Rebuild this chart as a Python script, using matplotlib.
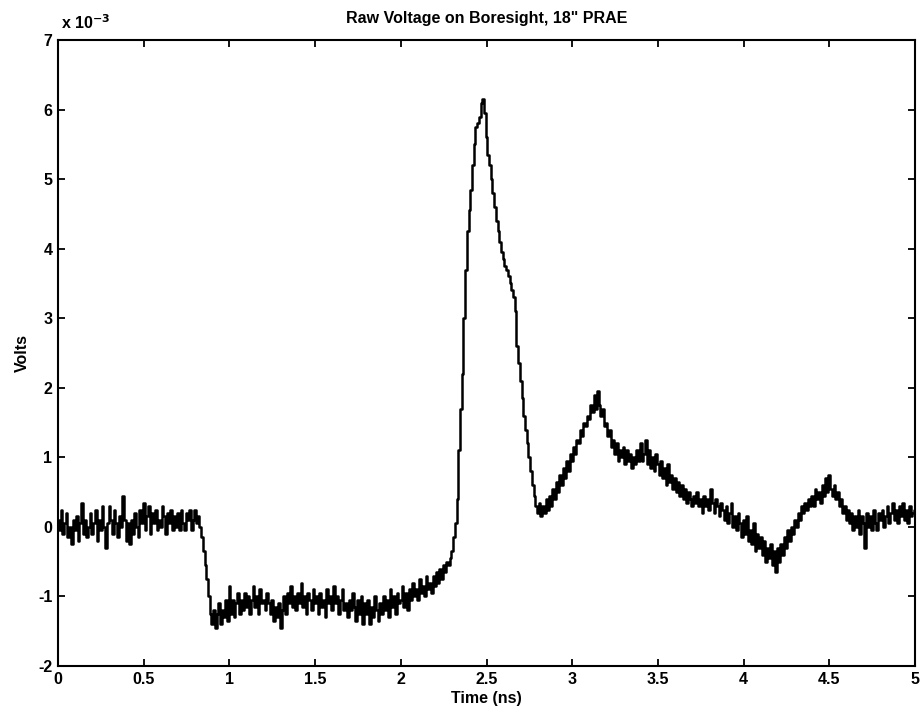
import numpy as np
import matplotlib.pyplot as plt

plt.rcParams['font.family'] = ['Liberation Sans', 'DejaVu Sans']

# sampled trace, 0.01 ns per sample, values in mV (scaled to volts below)
t_start, t_stop = 0.0, 5.0
volts_mv = [
    # 0.0 - 0.9
    0.10, -0.05, 0.25, -0.10, 0.05, 0.20, -0.15, 0.00, -0.25, 0.10,
    -0.05, 0.15, -0.20, 0.05, 0.35, -0.10, 0.10, -0.15, 0.00, 0.20,
    -0.10, 0.05, 0.25, -0.20, 0.10, -0.05, 0.30, 0.00, -0.30, 0.05,
    0.30, 0.10, -0.10, 0.25, 0.05, -0.15, 0.15, 0.00, 0.45, 0.10,
    -0.20, 0.05, -0.25, 0.10, -0.10, 0.20, 0.00, -0.15, 0.25, 0.05,
    0.35, -0.05, 0.15, 0.30, -0.10, 0.20, 0.05, 0.25, -0.05, 0.10,
    0.00, 0.30, 0.15, -0.10, 0.20, 0.05, 0.25, -0.05, 0.15, 0.00,
    0.20, -0.05, 0.25, 0.05, -0.05, 0.20, 0.10, 0.25, -0.05, 0.10,
    0.25, 0.05, 0.15, 0.00, -0.15, -0.35, -0.55, -0.75, -1.00, -1.25,
    # 0.9 - 2.3
    -1.40, -1.20, -1.45, -1.25, -1.10, -1.40, -1.20, -1.30, -1.05, -1.35,
    -0.85, -1.25, -1.05, -1.30, -1.10, -0.95, -1.25, -1.05, -1.20, -0.95,
    -1.15, -1.00, -1.25, -1.05, -0.85, -1.15, -1.00, -1.25, -0.90, -1.10,
    -1.05, -1.20, -0.95, -1.10, -1.25, -1.05, -1.35, -1.15, -1.30, -1.10,
    -1.45, -1.20, -1.00, -1.25, -0.95, -1.10, -0.85, -1.15, -1.00, -1.20,
    -0.95, -1.10, -0.80, -1.15, -1.00, -1.25, -0.95, -1.05, -1.20, -0.90,
    -1.10, -1.00, -1.25, -0.95, -1.15, -1.05, -1.30, -0.90, -1.10, -1.00,
    -1.20, -0.85, -1.10, -1.00, -1.25, -1.05, -0.90, -1.20, -1.10, -1.30,
    -1.05, -1.20, -0.95, -1.15, -1.35, -1.05, -1.25, -1.00, -1.40, -1.10,
    -1.25, -1.05, -1.40, -1.15, -1.30, -1.00, -1.20, -1.35, -1.10, -1.25,
    -1.00, -1.20, -1.05, -1.30, -0.90, -1.15, -1.00, -1.25, -0.95, -1.10,
    -1.05, -0.85, -1.15, -0.95, -1.20, -0.90, -1.05, -0.80, -1.00, -0.90,
    -1.05, -0.75, -0.95, -0.85, -1.00, -0.70, -0.90, -0.80, -0.95, -0.70,
    -0.85, -0.65, -0.80, -0.60, -0.75, -0.55, -0.65, -0.50, -0.55, -0.45,
    # 2.3 - 2.8 main pulse
    -0.35, -0.15, 0.05, 0.40, 1.10, 1.70, 2.20, 3.00, 3.70, 4.25,
    4.55, 4.85, 5.20, 5.50, 5.75, 5.80, 5.90, 6.10, 6.15, 5.95,
    5.60, 5.35, 5.20, 5.00, 4.80, 4.60, 4.40, 4.25, 4.10, 3.95,
    3.85, 3.75, 3.70, 3.60, 3.50, 3.40, 3.30, 3.10, 2.60, 2.35,
    2.10, 1.85, 1.60, 1.40, 1.20, 1.00, 0.80, 0.60, 0.45, 0.30,
    # 2.8 - 3.5
    0.20, 0.35, 0.15, 0.30, 0.20, 0.40, 0.25, 0.45, 0.30, 0.55,
    0.40, 0.65, 0.50, 0.75, 0.60, 0.85, 0.70, 0.95, 0.80, 1.05,
    0.95, 1.15, 1.05, 1.25, 1.20, 1.40, 1.30, 1.50, 1.45, 1.60,
    1.55, 1.75, 1.65, 1.90, 1.70, 1.95, 1.75, 1.60, 1.70, 1.45,
    1.50, 1.30, 1.40, 1.15, 1.25, 1.05, 1.20, 0.95, 1.10, 1.00,
    1.15, 0.90, 1.10, 0.95, 1.05, 0.85, 1.00, 0.90, 1.10, 0.95,
    1.20, 0.95, 1.05, 1.25, 0.90, 1.10, 0.85, 1.00, 0.80, 1.05,
    # 3.5 - 5.0
    0.90, 0.75, 0.95, 0.70, 0.85, 0.60, 0.90, 0.65, 0.75, 0.55,
    0.70, 0.50, 0.65, 0.45, 0.60, 0.40, 0.55, 0.35, 0.50, 0.40,
    0.30, 0.45, 0.35, 0.50, 0.30, 0.40, 0.20, 0.45, 0.30, 0.40,
    0.25, 0.55, 0.35, 0.20, 0.40, 0.30, 0.15, 0.35, 0.25, 0.10,
    0.30, 0.05, 0.20, 0.35, 0.00, 0.15, -0.05, 0.20, 0.05, -0.15,
    0.10, -0.10, 0.15, -0.20, -0.05, -0.25, 0.05, -0.35, -0.10, -0.30,
    -0.15, -0.40, -0.20, -0.50, -0.30, -0.45, -0.25, -0.55, -0.35, -0.65,
    -0.30, -0.50, -0.25, -0.40, -0.15, -0.30, -0.05, -0.20, 0.00, -0.10,
    0.10, 0.00, 0.20, 0.10, 0.30, 0.20, 0.35, 0.25, 0.40, 0.30,
    0.45, 0.30, 0.55, 0.40, 0.50, 0.35, 0.60, 0.45, 0.70, 0.50,
    0.75, 0.55, 0.45, 0.60, 0.40, 0.50, 0.30, 0.40, 0.20, 0.30,
    0.10, 0.25, 0.05, 0.20, -0.05, 0.15, 0.00, 0.25, -0.10, 0.15,
    0.05, -0.30, 0.20, 0.00, 0.15, -0.05, 0.25, 0.05, -0.05, 0.20,
    0.10, 0.25, 0.00, 0.15, 0.30, 0.05, 0.20, 0.35, 0.10, 0.25,
    0.05, 0.30, 0.15, 0.35, 0.10, 0.25, 0.05, 0.30, 0.15, 0.20,
    0.25,
]

x_ticks = [0, 0.5, 1, 1.5, 2, 2.5, 3, 3.5, 4, 4.5, 5]
x_tick_labels = ['0', '0.5', '1', '1.5', '2', '2.5', '3', '3.5', '4', '4.5', '5']
y_ticks_mv = [-2, -1, 0, 1, 2, 3, 4, 5, 6, 7]

volts = np.array(volts_mv) * 1e-3
t = np.linspace(t_start, t_stop, len(volts))

fig = plt.figure(figsize=(9.24, 7.18), dpi=100)
ax = fig.add_axes([58 / 924, 1 - 666 / 718, (915 - 58) / 924, (666 - 40) / 718])

ax.plot(t, volts, color='black', linewidth=1.8, drawstyle='steps-mid')

ax.set_xlim(0, 5)
ax.set_ylim(-2e-3, 7e-3)
ax.set_xticks(x_ticks)
ax.set_xticklabels(x_tick_labels, fontweight='bold')
ax.set_yticks([v * 1e-3 for v in y_ticks_mv])
ax.set_yticklabels([str(v) for v in y_ticks_mv], fontweight='bold')
ax.tick_params(direction='in', top=True, right=True, length=5, width=1.3,
               labelsize=11.5, pad=4)
for s in ax.spines.values():
    s.set_linewidth(1.5)

ax.text(0.003, 1.012, 'x 10$^{\\mathbf{-3}}$', transform=ax.transAxes, fontsize=11.5,
        fontweight='bold', ha='left', va='bottom')
ax.set_title('Raw Voltage on Boresight, 18" PRAE', fontsize=11.5,
             fontweight='bold', pad=12)
ax.set_xlabel('Time (ns)', fontsize=11.5, fontweight='bold', labelpad=3)
ax.set_ylabel('Volts', fontsize=11.5, fontweight='bold', labelpad=6)

fig.savefig('out.png', dpi=100)
